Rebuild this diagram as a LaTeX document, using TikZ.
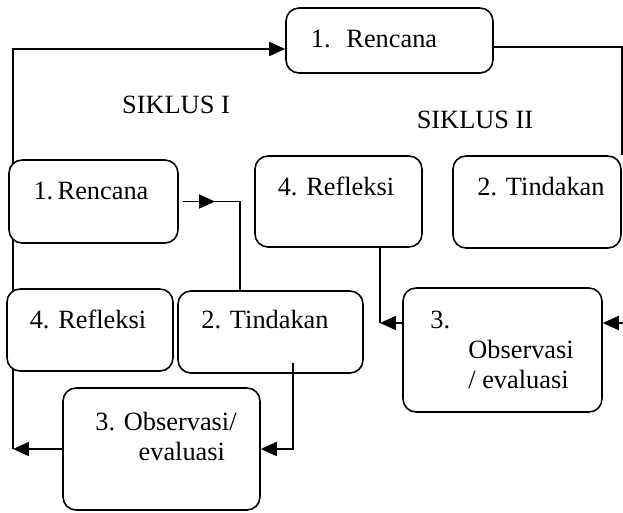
\documentclass[tikz,border=0pt]{standalone}
\usepackage{fontspec}
\setmainfont{Liberation Serif}
\usetikzlibrary{arrows.meta,backgrounds}

\begin{document}
\begin{tikzpicture}[x=0.02cm, y=-0.02cm,
                    kotak/.style = {draw, fill=white, rounded corners=0.26cm, line width=0.9pt},
                    teks/.style = {anchor=base, inner sep=0pt, font=\fontsize{15}{17}\selectfont},
                    garis/.style = {line width=1pt},
                    panah/.style = {-{Triangle[length=3.2mm,width=2.8mm]}, line width=1pt}]
                    \useasboundingbox (0,0) rectangle (623,512);

                    % kotak siklus
                    \node[kotak, minimum width=4.14cm, minimum height=1.30cm] (renII) at (389.5,40.5) {};
                    \node[kotak, minimum width=3.38cm, minimum height=1.66cm] (renI) at (93.5,201.5) {};
                    \node[kotak, minimum width=3.34cm, minimum height=1.82cm] (refII) at (338.5,201.5) {};
                    \node[kotak, minimum width=3.36cm, minimum height=1.84cm] (tinII) at (537,202) {};
                    \node[kotak, minimum width=3.32cm, minimum height=1.64cm] (refI) at (90,330) {};
                    \node[kotak, minimum width=3.70cm, minimum height=1.64cm] (tinI) at (270.5,332) {};
                    \node[kotak, minimum width=3.98cm, minimum height=2.48cm] (obsII) at (502.5,350) {};
                    \node[kotak, minimum width=3.94cm, minimum height=2.44cm] (obsI) at (161.5,449) {};

                    % teks
                    \node[teks] (tRenII) at (374,47) {1.\hspace{0.6em}Rencana};
                    \node[teks] (sikI) at (176,113) {SIKLUS I};
                    \node[teks] (sikII) at (475,128) {SIKLUS II};
                    \node[teks] (tRenI) at (91,199) {1.\,Rencana};
                    \node[teks] (tRefII) at (336,195) {4. Refleksi};
                    \node[teks] (tTinII) at (541,195) {2. Tindakan};
                    \node[teks] (tRefI) at (88,328) {4. Refleksi};
                    \node[teks] (tTinI) at (265,328) {2. Tindakan};
                    \node[teks, align=center] (tObsI) at (166,460) {3. Observasi/\\ \hspace{1.2em}evaluasi};
                    \node[teks, anchor=base west] (tNoII) at (430,328) {3.};
                    \node[teks, anchor=base west, align=left] (tObsII) at (468,388) {Observasi\\/ evaluasi};

                    % titik sudut
                    \coordinate (kiri) at (13,449);
                    \coordinate (t1) at (215,201.5);
                    \coordinate (b1) at (240,201.5);
                    \coordinate (b2) at (293,449);
                    \coordinate (b3) at (380,323);
                    \coordinate (kanan) at (623,323);

                    \begin{scope}[on background layer]
                    \draw[panah] (kiri) |- ([yshift=-0.17cm]renII.west);
                    \draw[garis] ([yshift=-0.13cm]renII.east) -| (tinII.north east);
                    \draw[line width=0.7pt] (t1) -- (b1) -- (b1 |- tinI.north);
                    \draw[garis] (b3) -- (b3 |- refII.south);
                    \end{scope}

                    \draw[panah] ([xshift=0.08cm]renI.east) -- (t1);
                    \draw[panah] (obsI.west) -- (kiri);
                    \draw[panah] ([yshift=0.22cm]b2 |- tinI.south) -- (b2) -- (obsI.east);
                    \draw[panah] (obsII.west |- b3) -- (b3);
                    \draw[panah] (kanan) -- (kanan -| obsII.east);
                \end{tikzpicture}
\end{document}
